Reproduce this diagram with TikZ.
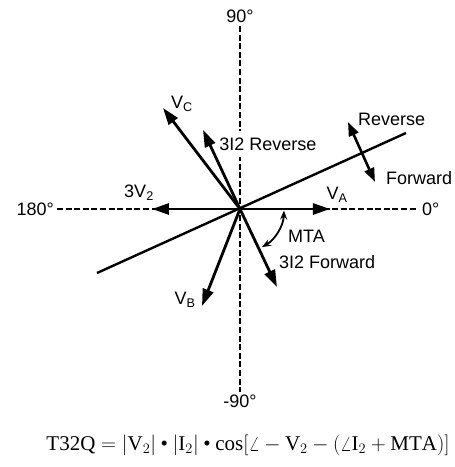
\documentclass[tikz,border=0pt]{standalone}
\usepackage{fontspec}
\setmainfont{Liberation Serif}
\setsansfont{Liberation Sans}
\usetikzlibrary{arrows.meta}

\begin{document}
\begin{tikzpicture}[x=1pt,y=1pt,
      sumbu/.style={line width=2.5pt,dash pattern=on 6pt off 2.6pt},
      fasor/.style={line width=2.8pt,-{Triangle[length=17pt,width=11pt]}},
      teks/.style={font=\sffamily\fontsize{18}{20}\selectfont,inner sep=1pt}]
    \useasboundingbox (-240,-258) rectangle (215,209);
    \coordinate (O) at (0,0);
    % Sumbu sudut
    \node[teks,anchor=east,inner sep=3pt] (d180) at (-183,0) {180°};
    \node[teks,anchor=west,inner sep=4pt] (d0) at (178,0) {0°};
    \node[teks,anchor=south,inner sep=3pt] (d90) at (0,183) {90°};
    \node[teks,anchor=north,inner sep=3pt] (dm90) at (0,-183) {-90°};
    \draw[sumbu] (d180) -- (d0);
    \draw[sumbu] (d90) -- (dm90);
    % Garis batas arah
    \coordinate (Lkiri) at (-143,-64);
    \coordinate (Lkanan) at (166,76);
    \draw[line width=2.4pt] (Lkiri) -- (Lkanan);
    % Fasor tegangan dan arus
    \coordinate (VA) at (90,0);
    \coordinate (VB) at (-38,-97);
    \coordinate (VC) at (-77,101);
    \coordinate (V2) at (-88,0);
    \coordinate (IR) at (-37,79);
    \coordinate (IF) at (37,-78);
    \foreach \u in {VA,VB,VC,V2,IR,IF}
      \draw[fasor] (O) -- (\u);
    \node[teks] (lVA) at (97,14) {V\textsubscript{A}};
    \node[teks] (lVB) at (-55,-91) {V\textsubscript{B}};
    \node[teks] (lVC) at (-58,105) {V\textsubscript{C}};
    \node[teks] (lV2) at (-101,16) {3V\textsubscript{2}};
    \node[teks,fill=white,inner xsep=2pt,inner ysep=7pt] (lIR) at (28,65) {3I2 Reverse};
    \node[teks,anchor=west] (lIF) at (38,-53) {3I2 Forward};
    % Sudut MTA
    \draw[line width=1.8pt,{Stealth[length=9pt,width=7pt]}-{Stealth[length=9pt,width=7pt]}]
      ([shift={(-2:44)}]O) arc[start angle=-2,end angle=-60,radius=44];
    \node[teks,anchor=west] (lMTA) at (47,-27) {MTA};
    % Arah maju / mundur
    \coordinate (Rev) at (108,87);
    \coordinate (Fwd) at (135,27);
    \draw[line width=2.6pt,{Triangle[length=14pt,width=10pt]}-{Triangle[length=14pt,width=10pt]}]
      (Rev) -- (Fwd);
    \node[teks,anchor=west] (lRev) at (117,90) {Reverse};
    \node[teks,anchor=west] (lFwd) at (145,31) {Forward};
    % Rumus
    \node[font=\fontsize{21}{24}\selectfont] (rumus) at (8,-236)
      {$\mathrm{T32Q}=\bigl|\mathrm{V}_2\bigr|\mathbin{\textbullet}\bigl|\mathrm{I}_2\bigr|\mathbin{\textbullet}\cos\bigl[\angle-\mathrm{V}_2-\bigl(\angle\mathrm{I}_2+\mathrm{MTA}\bigr)\bigr]$};
  \end{tikzpicture}
\end{document}
